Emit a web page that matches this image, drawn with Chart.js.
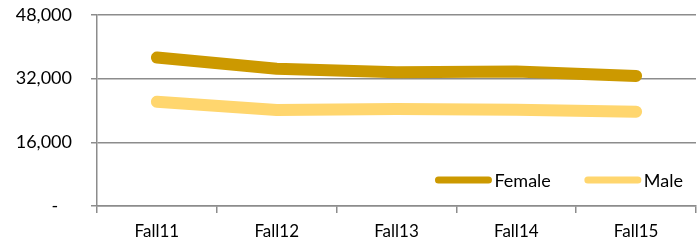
<!DOCTYPE html>
<html>
<head>
<meta charset="utf-8">
<script src="https://cdn.jsdelivr.net/npm/chart.js@4"></script>
<style>
  html, body { margin: 0; padding: 0; background: #fff; }
  #chart { display: block; }
</style>
</head>
<body>
<canvas id="chart" width="698" height="244"></canvas>
<script>
const categories = ['Fall11', 'Fall12', 'Fall13', 'Fall14', 'Fall15'];
const femaleValues = [37300, 34500, 33600, 33800, 32700];
const maleValues = [26200, 24100, 24400, 24200, 23700];
const yTicks = [0, 16000, 32000, 48000];

const FONT = 'Lato, "Open Sans", sans-serif';
const GRID = '#8c8c8c';

// legend drawn inside the plot, bottom right, like the excel original
const insideLegend = {
    id: 'insideLegend',
    afterDatasetsDraw(chart) {
        const {ctx, chartArea} = chart;
        const lineLen = 56, textGap = 3, itemGap = 34;
        ctx.save();
        ctx.font = '18px ' + FONT;
        ctx.textBaseline = 'middle';
        const items = chart.data.datasets.map(ds => ({
            label: ds.label,
            color: ds.borderColor,
            w: lineLen + textGap + ctx.measureText(ds.label).width
        }));
        const total = items.reduce((s, it) => s + it.w, 0) + itemGap * (items.length - 1);
        let x = chartArea.right - 13 - total;
        const y = chartArea.bottom - 26;
        items.forEach(it => {
            ctx.strokeStyle = it.color;
            ctx.lineWidth = 7;
            ctx.lineCap = 'round';
            ctx.beginPath();
            ctx.moveTo(x + 3, y);
            ctx.lineTo(x + lineLen - 3, y);
            ctx.stroke();
            ctx.fillStyle = '#000';
            ctx.fillText(it.label, x + lineLen + textGap, y + 1);
            x += it.w + itemGap;
        });
        ctx.restore();
    }
};

const ctx = document.getElementById('chart').getContext('2d');
const chart = new Chart(ctx, {
    type: 'line',
    data: {
        labels: categories,
        datasets: [
            {
                label: 'Female',
                data: femaleValues,
                borderColor: '#cc9900',
                borderWidth: 12,
                borderCapStyle: 'round',
                borderJoinStyle: 'round',
                pointRadius: 0,
                tension: 0
            },
            {
                label: 'Male',
                data: maleValues,
                borderColor: '#ffd66e',
                borderWidth: 12,
                borderCapStyle: 'round',
                borderJoinStyle: 'round',
                pointRadius: 0,
                tension: 0
            }
        ]
    },
    options: {
        responsive: false,
        devicePixelRatio: 1,
        animation: false,
        layout: { padding: { top: 15, right: 2, left: 0, bottom: 0 } },
        plugins: {
            legend: { display: false },
            tooltip: { enabled: false }
        },
        scales: {
            x: {
                offset: true,
                grid: {
                    offset: true,
                    drawOnChartArea: false,
                    color: GRID,
                    lineWidth: 1.5,
                    tickLength: 7
                },
                border: { display: true, color: GRID, width: 1.5 },
                ticks: {
                    color: '#000',
                    font: { family: FONT, size: 17 },
                    padding: 8,
                    maxRotation: 0
                },
                afterFit(scale) {
                    scale.height = 38;
                    scale.paddingLeft = 0;
                    scale.paddingRight = 0;
                }
            },
            y: {
                min: 0,
                max: 48000,
                afterBuildTicks(scale) {
                    scale.ticks = yTicks.map(v => ({value: v}));
                },
                grid: {
                    color: GRID,
                    lineWidth: 1.5,
                    tickLength: 6
                },
                border: { display: true, color: GRID, width: 1.5 },
                ticks: {
                    color: '#000',
                    font: { family: FONT, size: 18 },
                    padding: 19,
                    callback: v => v === 0 ? '-   ' : v.toLocaleString('en-US')
                },
                afterFit(scale) {
                    scale.width = 97;
                    scale.paddingTop = 0;
                    scale.paddingBottom = 0;
                }
            }
        }
    },
    plugins: [insideLegend]
});
console.log(JSON.stringify(chart.chartArea));
</script>
</body>
</html>
